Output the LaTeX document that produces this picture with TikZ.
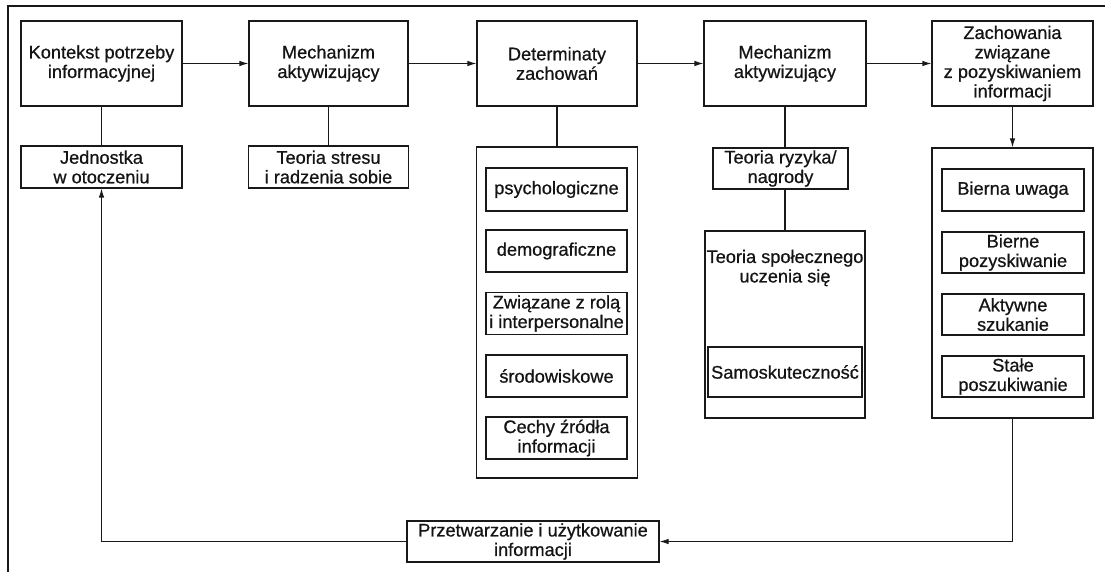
\documentclass[tikz,border=0pt]{standalone}
\usepackage{fontspec}
\setmainfont{Liberation Sans}[FakeBold=0.7]
\usetikzlibrary{arrows.meta}
\begin{document}
\begin{tikzpicture}[x=1pt,y=-1pt,
  box/.style={draw=black!90, line width=1.1pt, inner sep=0pt, align=center,
    font=\fontsize{18.2}{19.5}\selectfont, text=black!92},
  label/.style={inner sep=0pt, align=center,
    font=\fontsize{18.2}{19.5}\selectfont, text=black!92},
  link/.style={draw=black!90, line width=1.1pt},
  arr/.style={link, -{Latex[length=9pt,width=5.5pt]}},
  frame/.style={draw=black!90, line width=1.4pt}]
\useasboundingbox (0,0) rectangle (1105,572);

% open frame (left and top edges)
\draw[frame] (8,572) -- (8,6) -- (1105,6);

% top row
\node[box, minimum width=161pt, minimum height=85pt] (k1) at (101.5,63.5) {Kontekst potrzeby\\informacyjnej};
\node[box, minimum width=159pt, minimum height=85pt] (m1) at (328.5,63.5) {Mechanizm\\aktywizujący};
\node[box, minimum width=160pt, minimum height=85pt] (d1) at (557,63.5) {Determinaty\\zachowań};
\node[box, minimum width=162pt, minimum height=85pt] (m2) at (785,63.5) {Mechanizm\\aktywizujący};
\node[box, minimum width=161pt, minimum height=85pt] (z1) at (1012.5,63.5) {Zachowania\\związane\\z pozyskiwaniem\\informacji};

% second row
\node[box, minimum width=161pt, minimum height=42pt] (jed) at (101.5,167) {Jednostka\\w otoczeniu};
\node[box, minimum width=160pt, minimum height=42pt] (ts) at (328.5,167) {Teoria stresu\\i radzenia sobie};
\node[box, minimum width=135pt, minimum height=41pt] (tr) at (780.5,168.5) {Teoria ryzyka/\\nagrody};

% determinants group
\node[box, minimum width=161pt, minimum height=331pt] (dg) at (557,312.5) {};
\node[box, minimum width=141pt, minimum height=43pt] (d-a) at (556.5,189.5) {psychologiczne};
\node[box, minimum width=141pt, minimum height=42pt] (d-b) at (556.5,251) {demograficzne};
\node[box, minimum width=141pt, minimum height=42pt] (d-c) at (556.5,313.5) {Związane z rolą\\i interpersonalne};
\node[box, minimum width=141pt, minimum height=42pt] (d-d) at (556.5,376) {środowiskowe};
\node[box, minimum width=141pt, minimum height=42pt] (d-e) at (556.5,438) {Cechy źródła\\informacji};

% social learning group
\node[box, minimum width=160pt, minimum height=187pt] (sg) at (785,324.5) {};
\node[label] (sg-t) at (785,268) {Teoria społecznego\\uczenia się};
\node[box, minimum width=154pt, minimum height=50pt] (samo) at (785,372) {Samoskuteczność};

% information behaviour group
\node[box, minimum width=161pt, minimum height=270pt] (zg) at (1012.5,283) {};
\node[box, minimum width=142pt, minimum height=42pt] (z-a) at (1013,190) {Bierna uwaga};
\node[box, minimum width=142pt, minimum height=41pt] (z-b) at (1013,252.5) {Bierne\\pozyskiwanie};
\node[box, minimum width=142pt, minimum height=41pt] (z-c) at (1013,314.5) {Aktywne\\szukanie};
\node[box, minimum width=142pt, minimum height=41pt] (z-d) at (1013,376.5) {Stałe\\poszukiwanie};

% processing
\node[box, minimum width=252pt, minimum height=41pt] (prz) at (533,541.5) {Przetwarzanie i użytkowanie\\informacji};

% main flow
\draw[arr] (k1) -- (m1);
\draw[arr] (m1) -- (d1);
\draw[arr] (d1) -- (m2);
\draw[arr] (m2) -- (z1);

% vertical links
\draw[link] (k1.south) -- (jed.north);
\draw[link] (m1.south) -- (ts.north);
\draw[link] (d1.south) -- (dg.north);
\draw[link] (m2.south) -- (m2.south |- tr.north);
\draw[link] (m2.south |- tr.south) -- (sg.north);
\draw[arr] (z1.south) -- (zg.north);

% feedback loop
\draw[arr] (zg.south) |- (prz.east);
\draw[arr] (prz.west) -| (jed.south);
\end{tikzpicture}
\end{document}
